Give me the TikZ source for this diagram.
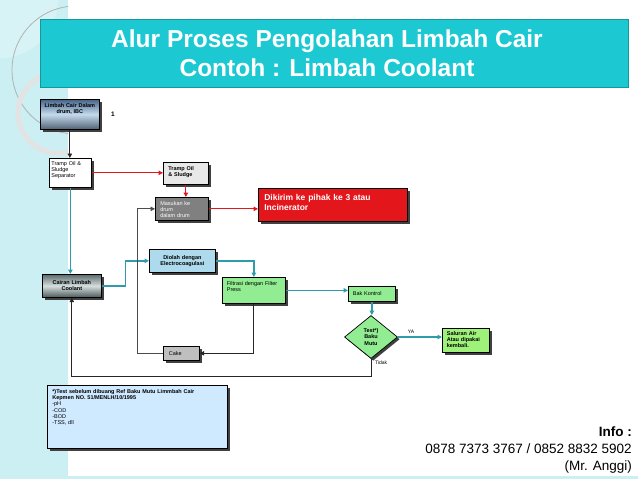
\documentclass[tikz,border=0pt]{standalone}
\usepackage{fontspec}
\setmainfont{Liberation Sans}
\usetikzlibrary{arrows.meta, positioning, shapes.geometric, shadows}
\definecolor{titlecyan}{HTML}{1CC9D3}
\definecolor{stripcyan}{HTML}{CCEFF3}
\definecolor{flowteal}{HTML}{2F9CAB}
\definecolor{flowred}{HTML}{E3161C}
\definecolor{procgreen}{HTML}{92EC92}
\definecolor{outgreen}{HTML}{9EF27A}
\definecolor{noteblue}{HTML}{CFE9FF}
\definecolor{coagblue}{HTML}{ADDAEC}

\begin{document}
\begin{tikzpicture}[x=1pt, y=-1pt,
    box/.style={draw=black, line width=.7pt, anchor=north west, inner sep=2pt,
        font=\fontsize{5.5}{6.3}\selectfont,
        drop shadow={shadow xshift=2.2pt, shadow yshift=-2.2pt, fill=black!75, opacity=1}},
    boldbox/.style={box, font=\fontsize{5.5}{6.3}\selectfont\bfseries},
    decision/.style={diamond, draw=black, line width=.7pt, fill=procgreen,
        minimum width=53pt, minimum height=43pt, inner sep=0pt, align=center,
        font=\fontsize{5.5}{6.3}\selectfont\bfseries,
        drop shadow={shadow xshift=2.2pt, shadow yshift=-2.2pt, fill=black!75, opacity=1}},
    teal line/.style={draw=flowteal, line width=1.3pt, -{Triangle[length=4.5pt, width=4.5pt]}},
    red line/.style={draw=flowred, line width=1pt, -{Triangle[length=4.5pt, width=4.5pt]}},
    black line/.style={draw=black!85, line width=.9pt, -{Triangle[length=4.5pt, width=4.5pt]}},
    small label/.style={font=\fontsize{5}{6}\selectfont, inner sep=0pt}]

    \useasboundingbox (0,0) rectangle (638,479);
    \fill[stripcyan] (0,0) rectangle (68,479);
    \begin{scope}
        \clip (0,0) rectangle (68,479);
        \fill[white, opacity=.25] (0,0) circle (58pt);
        \draw[gray!60, line width=.8pt] (76,70) circle (64pt);
        \draw[gray!22, line width=5pt] (58,113) circle (40pt);
    \end{scope}
    \fill[stripcyan] (0,476) rectangle (638,479);

    \node[draw=titlecyan!75!black, line width=.5pt, fill=titlecyan, anchor=north west,
        minimum width=588pt, minimum height=68pt, inner sep=0pt] (titlebar) at (40,19) {};
    \node[text=white, font=\fontsize{24.5}{29}\selectfont\bfseries, align=center] (title)
        at (327,53) {Alur Proses Pengolahan Limbah Cair\\Contoh : Limbah Coolant};

    \node[boldbox, align=center, text width=55pt, text height=6pt, text depth=20pt,
        top color={rgb,255:red,70;green,100;blue,136}, bottom color={rgb,255:red,80;green,98;blue,116},
        middle color={rgb,255:red,196;green,218;blue,236}] (drum) at (40,99) {Limbah Cair Dalam\\drum, IBC};
    \node[font=\fontsize{6.5}{7}\selectfont\bfseries] (stepnum) at (113,114) {1};

    \node[box, fill=white, align=left, text width=38pt, text height=5pt, text depth=20pt]
        (separator) at (49,158) {Tramp Oil \&\\Sludge\\Separator};
    \node[boldbox, fill=black!9, align=left, inner xsep=5pt, text width=35pt, text height=6pt, text depth=12pt]
        (trampoil) at (163,162) {Tramp Oil\\\& Sludge};
    \node[box, fill=black!50, text=white, align=left, inner xsep=5pt, text width=43pt, text height=6pt, text depth=13pt]
        (masukan) at (155,197) {Masukan ke\\drum\\dalam drum};
    \node[box, fill=flowred, text=white, align=left, font=\fontsize{8.5}{10.5}\selectfont\bfseries,
        inner xsep=6pt, inner ysep=3pt, text width=137pt, text height=9pt, text depth=18pt]
        (dikirim) at (258,188) {Dikirim ke pihak ke 3 atau\\Incinerator};

    \node[boldbox, align=center, text width=55pt, minimum height=23pt,
        top color={rgb,255:red,90;green,106;blue,108}, bottom color={rgb,255:red,76;green,90;blue,92},
        middle color={rgb,255:red,214;green,222;blue,222}] (cairan) at (42,274) {Cairan Limbah\\Coolant};
    \node[boldbox, fill=coagblue, align=center, text width=62pt, minimum height=23pt]
        (diolah) at (149,249) {Diolah dengan\\Electrocoagulasi};
    \node[box, fill=procgreen, align=left, inner xsep=4.5pt, text width=54pt, text height=6pt, text depth=16pt]
        (filtrasi) at (222,277) {Filtrasi dengan Filter\\Press};
    \node[box, fill=procgreen, align=left, inner xsep=4.5pt, text width=38pt, minimum height=15pt]
        (bak) at (348,286) {Bak Kontrol};
    \node[decision] (test) at (371,337) {Test*)\\Baku\\Mutu};
    \node[boldbox, fill=outgreen, align=left, inner xsep=4.5pt, text width=38pt, text height=5pt, text depth=15pt]
        (saluran) at (442,328) {Saluran Air\\Atau dipakai\\kembali.};
    \node[box, fill=black!25, align=left, inner xsep=5.5pt, text width=25pt, minimum height=14pt]
        (cake) at (163,346) {Cake};

    \node[box, fill=noteblue, align=left, inner xsep=5pt, text width=170pt, text height=6pt, text depth=53pt]
        (note) at (47,385) {\textbf{*)Test sebelum dibuang Ref Baku Mutu Limmbah Cair}\\
        \textbf{Kepmen NO. 51/MENLH/10/1995}\\-pH\\-COD\\-BOD\\-TSS, dll};

    \node[anchor=north east, inner sep=0pt, align=right, font=\fontsize{13.5}{17}\selectfont]
        (info) at (632,427) {\textbf{Info :}\\0878 7373 3767 / 0852 8832 5902\\(Mr. Anggi)};

    \draw[black line] (drum.south) -- (drum.south |- separator.north);
    \draw[red line] (separator.east) -- (separator.east -| trampoil.west);
    \draw[red line] (trampoil.south) -- (trampoil.south |- masukan.north);
    \draw[red line] (masukan.east) -- (masukan.east -| dikirim.west);
    \draw[teal line] (separator.south) -- (separator.south |- cairan.north);
    \draw[teal line] (cairan.east) -- ++(24,0) |- (diolah.west);
    \draw[teal line] (diolah.east) -| (filtrasi.north);
    \draw[teal line] (filtrasi.east) -- (filtrasi.east -| bak.west);
    \draw[teal line] (bak.south) -- (bak.south |- test.north);
    \draw[teal line] (test.east) -- (test.east -| saluran.west)
        node[small label, pos=.3, above=3pt] (ya) {YA};
    \draw[black line] (test.south) -- ++(0,18) -| (cairan.south);
    \node[small label, anchor=west] (tidak) at ([xshift=4pt, yshift=-3.5pt]test.south) {Tidak};
    \draw[black line] (filtrasi.south) |- (cake.east);
    \draw[black line, draw=black!70] (cake.west) -- ++(-26,0) |- (masukan.west);

\end{tikzpicture}
\end{document}
